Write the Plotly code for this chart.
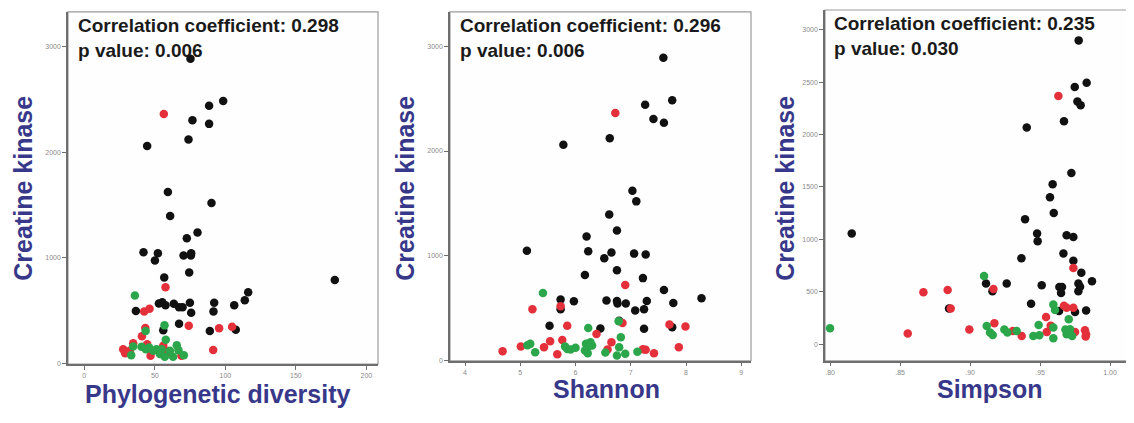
import plotly.graph_objects as go

# ---------------- data ----------------
# Panel 1: Phylogenetic diversity vs Creatine kinase
pd_black_x = [75.3, 98.5, 88.5, 76.7, 88.5, 73.9, 44.6, 59.3, 90.2, 60.9, 80.3, 72.7, 42.0, 52.2, 50.1,
              70.4, 75.6, 75.8, 74.4, 56.7, 177.6, 116.2, 113.8, 106.3, 92.1, 91.6, 74.9, 75.8, 69.7,
              67.2, 63.5, 57.6, 55.3, 52.9, 36.6, 67.2, 56.0, 89.0, 107.4]
pd_black_y = [2884, 2483, 2439, 2302, 2267, 2120, 2057, 1622, 1519, 1394, 1240, 1184, 1052, 1043, 974,
              1021, 1021, 1043, 861, 814, 789, 673, 598, 551, 573, 492, 573, 479, 532,
              532, 564, 551, 579, 567, 495, 376, 313, 307, 319]
pd_red_x = [56.4, 57.6, 42.5, 46.3, 43.3, 40.9, 44.6, 34.7, 27.6, 29.0, 32.3, 47.0, 56.0, 57.6, 59.5,
            68.9, 74.1, 95.6, 104.8, 91.4]
pd_red_y = [2361, 720, 492, 517, 335, 257, 182, 191, 135, 97, 119, 72, 166, 119, 103,
            72, 357, 332, 348, 128]
pd_green_x = [35.9, 43.5, 56.9, 57.8, 65.6, 34.7, 40.6, 43.7, 48.9, 51.2, 33.3, 53.6, 57.1, 63.0,
              66.8, 70.6, 60.7, 54.8, 46.0]
pd_green_y = [642, 307, 360, 225, 172, 160, 157, 135, 119, 135, 78, 88, 63, 63,
              125, 78, 119, 135, 150]

# Panel 2: Shannon vs Creatine kinase
sh_black_x = [7.59, 7.75, 7.26, 7.41, 7.60, 6.62, 5.78, 7.03, 7.10, 6.61, 6.75, 6.20, 5.12, 6.23, 6.65,
              6.52, 7.06, 7.27, 6.75, 6.17, 7.22, 7.60, 8.28, 7.77, 7.29, 7.24, 7.08, 6.91, 6.76,
              6.75, 6.56, 5.97, 5.73, 5.73, 5.53, 6.45, 7.24, 7.75, 6.79]
sh_black_y = [2890, 2485, 2441, 2305, 2271, 2122, 2059, 1620, 1519, 1393, 1241, 1184, 1048, 1042, 1030,
              976, 1020, 1011, 862, 815, 786, 673, 594, 549, 568, 489, 477, 543, 543,
              568, 572, 565, 581, 489, 332, 306, 303, 316, 379]
sh_red_x = [6.72, 6.90, 5.22, 5.73, 5.85, 6.38, 6.85, 7.70, 7.99, 5.76, 5.54, 5.43, 5.01, 4.68, 5.67,
            6.65, 6.58, 7.22, 7.27, 7.42, 7.87]
sh_red_y = [2362, 720, 489, 518, 332, 253, 357, 344, 325, 196, 183, 126, 133, 88, 60,
            174, 104, 107, 101, 69, 126]
sh_green_x = [5.41, 6.23, 6.78, 6.82, 5.13, 5.18, 5.27, 5.81, 5.85, 5.91, 6.00, 6.19, 6.27, 6.30,
              6.23, 6.17, 6.22, 6.54, 6.79, 6.75, 6.90, 7.12]
sh_green_y = [644, 310, 373, 221, 145, 158, 79, 133, 110, 104, 120, 158, 174, 142,
              133, 95, 69, 76, 126, 47, 63, 82]

# Panel 3: Simpson vs Creatine kinase
si_black_x = [0.9776, 0.9833, 0.9748, 0.9767, 0.9790, 0.9671, 0.9405, 0.9724, 0.9590, 0.9571, 0.9598,
              0.9393, 0.8155, 0.9479, 0.9483, 0.9690, 0.9738, 0.9667, 0.9367, 0.9738, 0.9795, 0.9871,
              0.9512, 0.9262, 0.9114, 0.9160, 0.9638, 0.9657, 0.9650, 0.9774, 0.9774, 0.9786, 0.9750,
              0.9829, 0.9636, 0.9436, 0.8850]
si_black_y = [2899, 2495, 2454, 2315, 2280, 2128, 2068, 1633, 1525, 1402, 1251,
              1191, 1055, 1055, 982, 1039, 1023, 865, 821, 796, 682, 600,
              562, 578, 578, 505, 546, 546, 489, 578, 505, 549, 306,
              322, 316, 385, 341]
si_red_x = [0.9631, 0.9738, 0.8667, 0.8840, 0.8862, 0.9167, 0.8555, 0.8995, 0.9174, 0.9305, 0.9369,
            0.9543, 0.9548, 0.9576, 0.9671, 0.9690, 0.9738, 0.9750, 0.9821, 0.9829, 0.9826]
si_red_y = [2368, 726, 496, 518, 341, 527, 101, 139, 199, 126, 79,
            259, 117, 177, 366, 347, 347, 117, 133, 95, 73]
si_green_x = [0.8000, 0.9100, 0.9119, 0.9143, 0.9162, 0.9245, 0.9267, 0.9333, 0.9452, 0.9495, 0.9490,
              0.9595, 0.9607, 0.9595, 0.9595, 0.9681, 0.9705, 0.9690, 0.9729, 0.9714]
si_green_y = [152, 651, 174, 111, 88, 139, 111, 126, 79, 85, 183,
              379, 325, 158, 57, 139, 237, 95, 79, 142]

# text / tick labels
x_titles = ["Phylogenetic diversity", "Shannon", "Simpson"]
y_title = "Creatine kinase"
corr_texts = ["Correlation coefficient: 0.298<br>p value: 0.006",
              "Correlation coefficient: 0.296<br>p value: 0.006",
              "Correlation coefficient: 0.235<br>p value: 0.030"]
pd_xticks = [0, 50, 100, 150, 200]
sh_xticks = [4, 5, 6, 7, 8, 9]
si_xticks = [0.80, 0.85, 0.90, 0.95, 1.00]
si_xticklabels = [".80", ".85", ".90", ".95", "1.00"]
y_ticks_12 = [0, 1000, 2000, 3000]
y_ticks_3 = [0, 500, 1000, 1500, 2000, 2500, 3000]

# ---------------- styling ----------------
BLACK = "#111111"
RED = "#e3303a"
GREEN = "#2ba64a"
TITLE_BLUE = "#38388a"
MS = 8.5
FONT = "Liberation Sans, Arial"

fig = go.Figure()

panels = [
    ("x", "y", [(pd_black_x, pd_black_y, BLACK), (pd_red_x, pd_red_y, RED), (pd_green_x, pd_green_y, GREEN)]),
    ("x2", "y2", [(sh_black_x, sh_black_y, BLACK), (sh_red_x, sh_red_y, RED), (sh_green_x, sh_green_y, GREEN)]),
    ("x3", "y3", [(si_black_x, si_black_y, BLACK), (si_red_x, si_red_y, RED), (si_green_x, si_green_y, GREEN)]),
]
for xa, ya, groups in panels:
    for gx, gy, col in groups:
        fig.add_trace(go.Scatter(x=gx, y=gy, mode="markers", xaxis=xa, yaxis=ya,
                                 marker=dict(size=MS, color=col, line=dict(width=0)),
                                 showlegend=False, hoverinfo="skip"))

# page is rendered with an 8px body margin; work in page pixels and convert
OFF = 8
PAGE_W, PAGE_H = 1134, 423
W, H = PAGE_W - OFF, PAGE_H - OFF


def px(a):
    return (a - OFF) / W


def py(a):
    return 1 - (a - OFF) / H


def dx(a, b):
    return [px(a), min(1.0, px(b))]


def dy(top, bottom):
    return [py(bottom), py(top)]


tickfont = dict(family=FONT, size=7, color="#8a8a8a")
common_axis = dict(showline=True, linecolor="#6e6e6e", linewidth=1.5, mirror=False,
                   showgrid=False, zeroline=False, ticks="outside", ticklen=4,
                   tickcolor="#6e6e6e", tickfont=tickfont)

x_domains = [dx(68, 378), dx(450, 751), dx(825, 1133)]
y_domains = [dy(12, 366.7), dy(12, 363.3), dy(10, 363.3)]

fig.update_layout(
    width=W, height=H,
    margin=dict(l=0, r=0, t=0, b=0),
    paper_bgcolor="white", plot_bgcolor="#fefefe",
    xaxis=dict(domain=x_domains[0], range=[-11.5, 208.2], tickvals=pd_xticks, anchor="y", **common_axis),
    yaxis=dict(domain=y_domains[0], range=[-6.6, 3326], tickvals=y_ticks_12, anchor="x", **common_axis),
    xaxis2=dict(domain=x_domains[1], range=[3.728, 9.176], tickvals=sh_xticks, anchor="y2", **common_axis),
    yaxis2=dict(domain=y_domains[1], range=[-3, 3328], tickvals=y_ticks_12, anchor="x2", **common_axis),
    xaxis3=dict(domain=x_domains[2], range=[0.7964, 1.0164], tickvals=si_xticks, ticktext=si_xticklabels,
                anchor="y3", **common_axis),
    yaxis3=dict(domain=y_domains[2], range=[-158, 3189], tickvals=y_ticks_3, anchor="x3", **common_axis),
)

# light box around each plot
for i in range(3):
    xref = "x domain" if i == 0 else f"x{i+1} domain"
    yref = "y domain" if i == 0 else f"y{i+1} domain"
    fig.add_shape(type="rect", xref=xref, yref=yref, x0=0, x1=1, y0=0, y1=1,
                  line=dict(color="#9a9a9a", width=1.2), fillcolor="rgba(0,0,0,0)", layer="below")

# correlation annotations (page-pixel anchor of the text block's top-left)
corr_left = [76, 458, 832]
corr_top = [13, 13, 11]
for i, txt in enumerate(corr_texts):
    fig.add_annotation(text=txt, xref="paper", yref="paper", x=px(corr_left[i]), y=py(corr_top[i]),
                       xanchor="left", yanchor="top", showarrow=False, align="left",
                       font=dict(family=FONT, size=19, color="#1a1a1a", weight="bold"))

# axis titles
y_title_x = [23, 405, 785]
x_title_pos = [(217, 397), (606, 392), (990, 392)]
for i in range(3):
    fig.add_annotation(text=f"<b>{y_title}</b>", xref="paper", yref="paper",
                       x=px(y_title_x[i]), y=py(190), xanchor="center", yanchor="middle",
                       textangle=-90, showarrow=False,
                       font=dict(family=FONT, size=25, color=TITLE_BLUE))
    cx, cy = x_title_pos[i]
    fig.add_annotation(text=f"<b>{x_titles[i]}</b>", xref="paper", yref="paper",
                       x=px(cx), y=py(cy), xanchor="center", yanchor="middle",
                       showarrow=False,
                       font=dict(family=FONT, size=25, color=TITLE_BLUE))

fig.write_html("out.html")
